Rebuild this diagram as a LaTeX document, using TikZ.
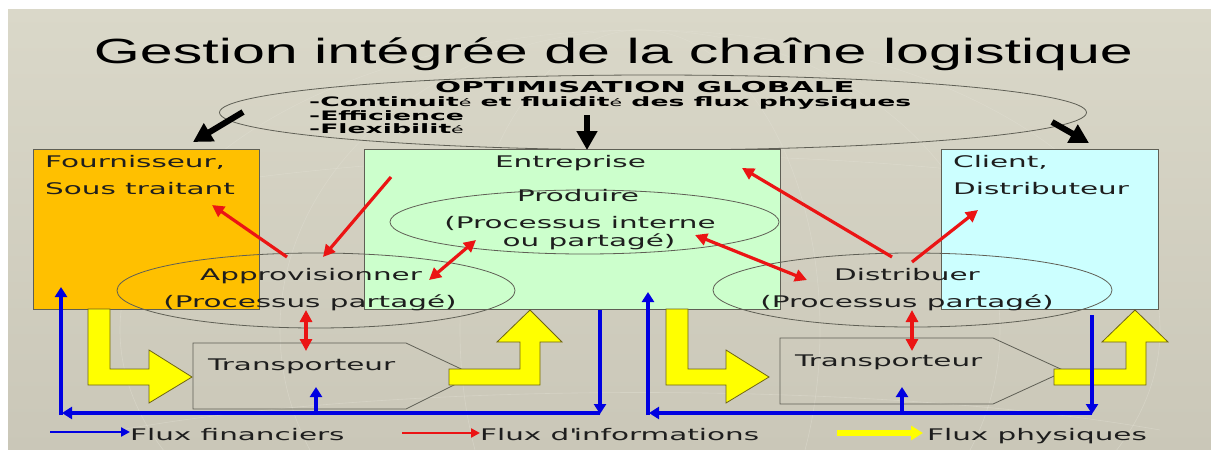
\documentclass[tikz,border=0pt]{standalone}
\usepackage{fontspec}
\setmainfont{DejaVu Sans}[FakeStretch=1.84]
\newfontfamily\titlefont{Liberation Sans}[FakeStretch=1.69]
\newfontfamily\goalfont{DejaVu Sans}[FakeStretch=2.05]
\usetikzlibrary{arrows.meta,shapes.geometric}
\definecolor{slidetop}{RGB}{218,216,201}
\definecolor{slidebot}{RGB}{202,199,184}
\definecolor{globeline}{RGB}{226,224,212}
\definecolor{fournfill}{RGB}{255,192,0}
\definecolor{entrfill}{RGB}{204,255,204}
\definecolor{clientfill}{RGB}{204,255,255}
\definecolor{flowyellow}{RGB}{255,255,0}
\definecolor{flowedge}{RGB}{110,100,20}
\definecolor{flowblue}{RGB}{0,0,225}
\definecolor{flowred}{RGB}{235,20,20}
\definecolor{lineg}{RGB}{95,95,85}
\definecolor{inkg}{RGB}{30,30,30}
\newcommand{\smalle}{{\mdseries\fontsize{10}{10}\selectfont é}}
\tikzset{
  actor/.style={draw=lineg, line width=0.9pt, anchor=north west, inner sep=0pt},
  procell/.style={ellipse, draw=lineg, line width=0.8pt, inner sep=0pt},
  lbl/.style={text=inkg, inner sep=0pt, font=\fontsize{16}{27}\selectfont},
  goaltxt/.style={inner sep=0pt, anchor=base west, font=\goalfont\bfseries\fontsize{13}{13}\selectfont},
  bluearr/.style={draw=flowblue, line width=3.8pt, -{Triangle[length=10pt,width=12pt]}},
  redarr/.style={draw=flowred, line width=3.2pt, -{Triangle[length=12pt,width=12pt]}},
  redboth/.style={draw=flowred, line width=3.2pt, {Triangle[length=12pt,width=12pt]}-{Triangle[length=12pt,width=12pt]}},
  blackarr/.style={draw=black, line width=6pt, -{Triangle[length=19pt,width=20pt]}},
  physflow/.style={fill=flowyellow, draw=flowedge, line width=0.8pt, line join=miter},
  carrier/.style={draw=lineg, line width=0.8pt, line join=miter},
  globe/.style={draw=globeline, line width=0.6pt, opacity=0.45},
}
\begin{document}
\begin{tikzpicture}[x=1pt,y=-1pt,line cap=butt]
\useasboundingbox (0,0) rectangle (1211,450);
\fill[white] (0,0) rectangle (1211,450);
\shade[top color=slidetop, bottom color=slidebot] (8,9) rectangle (1211,450);
% globe en fond
\begin{scope}
  \clip (8,9) rectangle (1211,450);
  \draw[globe] (640,330) ellipse (520pt and 300pt);
  \draw[globe] (640,330) ellipse (360pt and 300pt);
  \draw[globe] (640,330) ellipse (180pt and 300pt);
  \draw[globe] (120,200) .. controls (400,140) and (880,140) .. (1160,200);
  \draw[globe] (120,430) .. controls (400,380) and (880,380) .. (1160,430);
\end{scope}

% titre
\node[anchor=base, inner sep=0pt, font=\titlefont\fontsize{35}{35}\selectfont] (title) at (613.5,63) {Gestion intégrée de la chaîne logistique};

% optimisation globale
\node[ellipse, draw=lineg, line width=0.8pt, inner sep=0pt, minimum width=867pt, minimum height=75pt] (goal) at (653,112.5) {};
\node[goaltxt, font=\goalfont\bfseries\fontsize{15}{15}\selectfont] (goalA) at (435,92) {OPTIMISATION GLOBALE};
\node[goaltxt] (goalB) at (309,106) {-Continuit\smalle{} et fluidit\smalle{} des flux physiques};
\node[goaltxt] (goalC) at (309,120) {-Efficience};
\node[goaltxt] (goalD) at (309,133) {-Flexibilit\smalle};

% acteurs
\node[actor, fill=fournfill, minimum width=226pt, minimum height=160pt] (fourn) at (33,149) {};
\node[actor, fill=entrfill, minimum width=416pt, minimum height=160pt] (entr) at (364,149) {};
\node[actor, fill=clientfill, minimum width=217pt, minimum height=160pt] (client) at (941,149) {};
\node[lbl, anchor=base west] (fournA) at (45,167) {Fournisseur,};
\node[lbl, anchor=base west] (fournB) at (45,194) {Sous traitant};
\node[lbl, anchor=base] (entrA) at (570.5,167) {Entreprise};
\node[lbl, anchor=base west] (clientA) at (953,167) {Client,};
\node[lbl, anchor=base west] (clientB) at (953,194) {Distributeur};

% processus
\node[procell, minimum width=389pt, minimum height=64pt] (prod) at (584.5,222) {};
\node[procell, minimum width=398pt, minimum height=75pt] (appro) at (316,290.5) {};
\node[procell, minimum width=399pt, minimum height=74pt] (distr) at (912.5,290) {};
\node[lbl, anchor=base] (prodA) at (578,201) {Produire};
\node[lbl, anchor=base] (prodB) at (580,228) {(Processus interne};
\node[lbl, anchor=base] (prodC) at (589,246) {ou partagé)};
\node[lbl, anchor=base] (approA) at (311,280) {Approvisionner};
\node[lbl, anchor=base] (approB) at (310,307) {(Processus partagé)};
\node[lbl, anchor=base] (distrA) at (907,280) {Distribuer};
\node[lbl, anchor=base] (distrB) at (907,307) {(Processus partagé)};

% transporteurs
\draw[carrier] (193,343) -- (406,343) -- (474,375) -- (406,409) -- (193,409) -- cycle;
\draw[carrier] (780,338) -- (993,338) -- (1065,371) -- (993,404) -- (780,404) -- cycle;
\node[lbl, anchor=base west] (transA) at (208,370) {Transporteur};
\node[lbl, anchor=base west] (transB) at (795,366) {Transporteur};

% flux physiques
\draw[physflow] (88,309) -- (110,309) -- (110,369) -- (149,369) -- (149,350) -- (192,377) -- (149,403) -- (149,385) -- (88,385) -- cycle;
\draw[physflow] (449,369) -- (520,369) -- (520,342) -- (497,342) -- (530,310) -- (562,342) -- (540,342) -- (540,385) -- (449,385) -- cycle;
\draw[physflow] (666,309) -- (688,309) -- (688,369) -- (726,369) -- (726,350) -- (769,377) -- (726,403) -- (726,385) -- (666,385) -- cycle;
\draw[physflow] (1054,369) -- (1126,369) -- (1126,342) -- (1102,342) -- (1135,310) -- (1168,342) -- (1146,342) -- (1146,385) -- (1054,385) -- cycle;

% points des flux
\coordinate (gA) at (243,112);  \coordinate (fA) at (193,142);
\coordinate (gB) at (587,115);  \coordinate (eA) at (587,150);
\coordinate (gC) at (1052,122); \coordinate (cA) at (1089,143);
\coordinate (aA) at (287,257);  \coordinate (fB) at (212,205);
\coordinate (eB) at (391,177);  \coordinate (aB) at (323,257);
\coordinate (aC) at (429,280);  \coordinate (pA) at (476,240);
\coordinate (pB) at (695,235);  \coordinate (dA) at (807,280);
\coordinate (dB) at (892,257);  \coordinate (eC) at (742,168);
\coordinate (dC) at (912,262);  \coordinate (cB) at (978,210);
\coordinate (aD) at (306,310);  \coordinate (tA) at (306,351);
\coordinate (dD) at (912,310);  \coordinate (tB) at (912,351);
\coordinate (eD) at (600,310);  \coordinate (eE) at (600,414);
\coordinate (kA) at (62,413);   \coordinate (kB) at (61,415);  \coordinate (fC) at (61,287);
\coordinate (kC) at (316,413);  \coordinate (tC) at (316,387);
\coordinate (cC) at (1092,315); \coordinate (cD) at (1092,414);
\coordinate (kD) at (649,413);  \coordinate (kE) at (648,415); \coordinate (eF) at (648,292);
\coordinate (kF) at (902,413);  \coordinate (tD) at (902,387);

% flux d'informations
\draw[redarr] (aA) -- (fB);
\draw[redarr] (eB) -- (aB);
\draw[redboth] (aC) -- (pA);
\draw[redboth] (pB) -- (dA);
\draw[redarr] (dB) -- (eC);
\draw[redarr] (dC) -- (cB);
\draw[redboth] (aD) -- (tA);
\draw[redboth] (dD) -- (tB);

% flux financiers
\draw[bluearr] (eD) -- (eE);
\draw[bluearr] (600,413) -- (kA);
\draw[bluearr] (kB) -- (fC);
\draw[bluearr] (kC) -- (tC);
\draw[bluearr] (cC) -- (cD);
\draw[bluearr] (1092,413) -- (kD);
\draw[bluearr] (kE) -- (eF);
\draw[bluearr] (kF) -- (tD);

% optimisation vers les acteurs
\draw[blackarr] (gA) -- (fA);
\draw[blackarr] (gB) -- (eA);
\draw[blackarr] (gC) -- (cA);

% legende
\draw[draw=flowblue, line width=2.6pt, -{Triangle[length=9pt,width=9pt]}] (50,432) -- (130,432);
\node[lbl, anchor=base west] (legA) at (130,440) {Flux financiers};
\draw[draw=flowred, line width=2.6pt, -{Triangle[length=9pt,width=9pt]}] (402,433) -- (480,433);
\node[lbl, anchor=base west] (legB) at (480,440) {Flux d\textquotesingle informations};
\draw[draw=flowyellow, line width=6pt, -{Triangle[length=12pt,width=14pt]}] (837,433) -- (923,433);
\node[lbl, anchor=base west] (legC) at (927,440) {Flux physiques};
\end{tikzpicture}
\end{document}
